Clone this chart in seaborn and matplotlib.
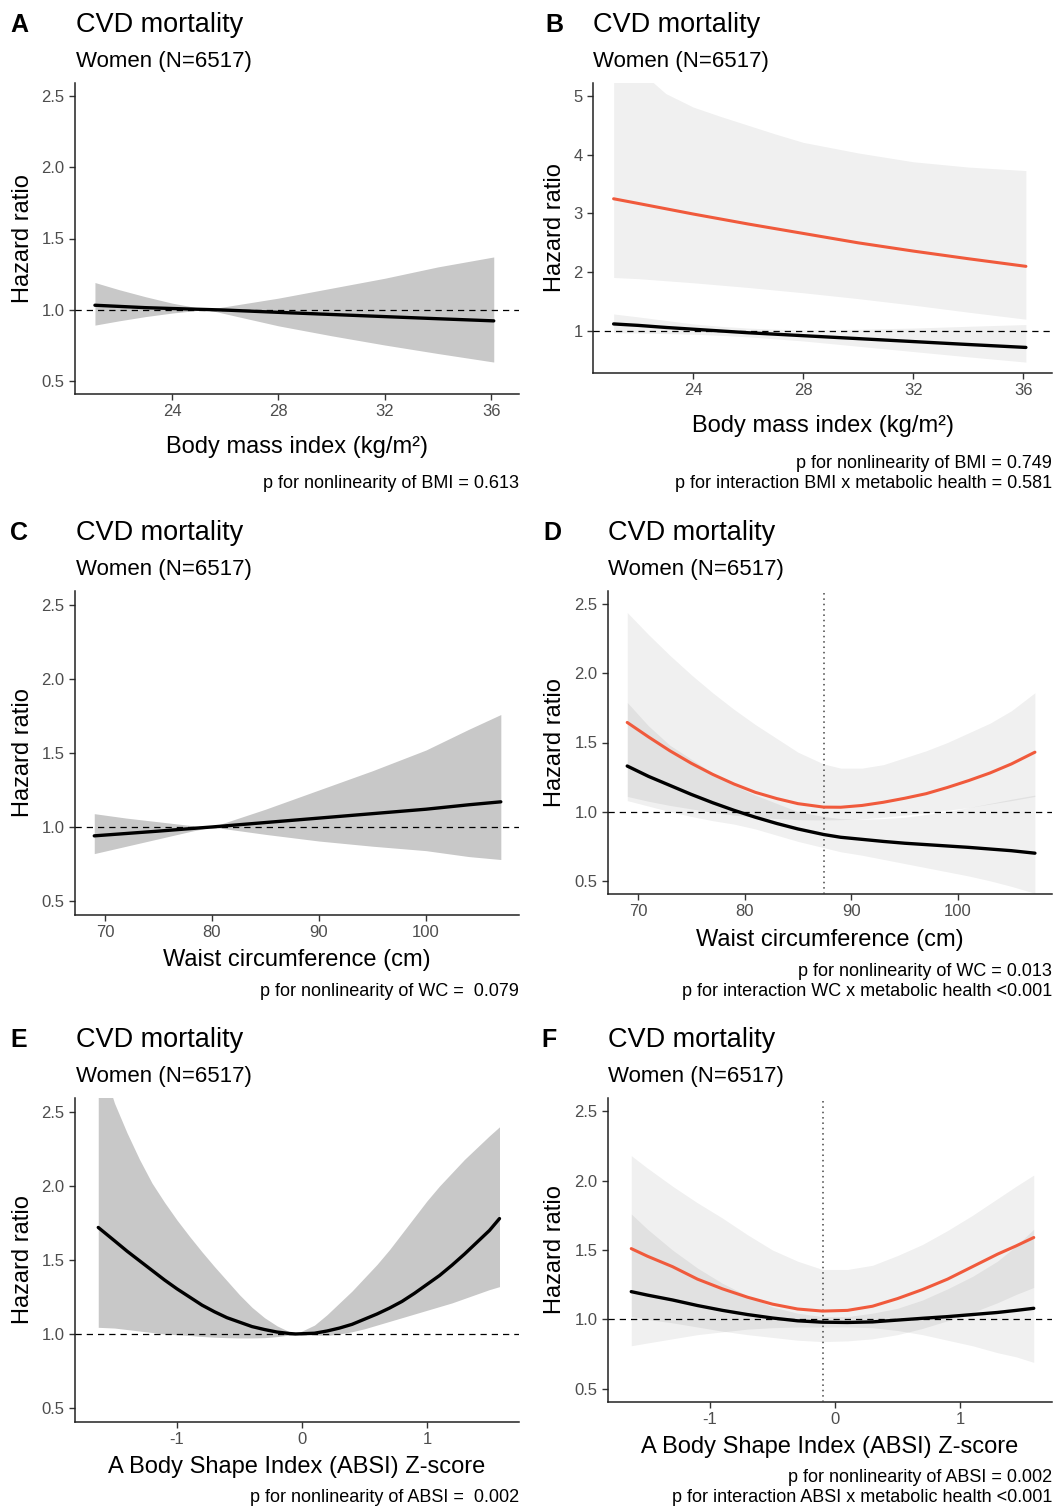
import numpy as np
import matplotlib
matplotlib.use("Agg")
import matplotlib.pyplot as plt
import seaborn as sns

# ---- Panel A: BMI, all women ----
a_x = [21.1, 22, 23, 24, 25.3, 26, 28, 30, 32, 34, 36.1]
a_hr = [1.03, 1.022, 1.013, 1.007, 1.0, 0.996, 0.98, 0.965, 0.95, 0.935, 0.92]
a_lo = [0.89, 0.92, 0.95, 0.975, 1.0, 0.97, 0.885, 0.815, 0.75, 0.69, 0.63]
a_hi = [1.19, 1.14, 1.09, 1.045, 1.0, 1.02, 1.08, 1.15, 1.22, 1.30, 1.37]

# ---- Panel B: BMI by metabolic health ----
b_x = [21.1, 22, 23, 24, 25, 26, 27, 28, 30, 32, 34, 36.1]
b_unh_hr = [3.25, 3.17, 3.08, 2.99, 2.905, 2.82, 2.74, 2.66, 2.50, 2.36, 2.23, 2.10]
b_unh_lo = [1.91, 1.89, 1.855, 1.82, 1.78, 1.74, 1.695, 1.65, 1.55, 1.44, 1.32, 1.20]
b_unh_hi = [5.95, 5.45, 5.04, 4.81, 4.65, 4.50, 4.35, 4.21, 4.03, 3.88, 3.79, 3.73]
b_hea_hr = [1.12, 1.095, 1.06, 1.03, 1.0, 0.97, 0.945, 0.92, 0.87, 0.82, 0.77, 0.72]
b_hea_lo = [0.97, 0.965, 0.955, 0.945, 0.925, 0.90, 0.865, 0.83, 0.74, 0.65, 0.56, 0.47]
b_hea_hi = [1.29, 1.24, 1.18, 1.12, 1.08, 1.05, 1.03, 1.02, 1.03, 1.05, 1.08, 1.11]

# ---- Panel C: waist circumference, all women ----
c_x = [69, 72, 75, 78, 80, 85, 90, 95, 100, 104, 107]
c_hr = [0.94, 0.956, 0.972, 0.989, 1.0, 1.03, 1.06, 1.09, 1.12, 1.15, 1.17]
c_lo = [0.82, 0.87, 0.92, 0.97, 1.0, 0.95, 0.905, 0.87, 0.84, 0.80, 0.78]
c_hi = [1.09, 1.06, 1.035, 1.01, 1.0, 1.12, 1.25, 1.38, 1.52, 1.66, 1.76]

# ---- Panel D: waist circumference by metabolic health ----
d_x = [69, 71, 73, 75, 77, 79, 81, 83, 85, 87.4, 89, 91, 93, 95, 97, 99, 101, 103, 105, 107.2]
d_unh_hr = [1.645, 1.54, 1.44, 1.35, 1.27, 1.20, 1.14, 1.095, 1.058, 1.033, 1.032, 1.045,
            1.068, 1.097, 1.13, 1.175, 1.225, 1.28, 1.345, 1.43]
d_unh_lo = [1.11, 1.075, 1.045, 1.02, 0.995, 0.975, 0.96, 0.95, 0.942, 0.94, 0.942, 0.948,
            0.96, 0.975, 0.99, 1.01, 1.03, 1.055, 1.08, 1.11]
d_unh_hi = [2.44, 2.28, 2.13, 1.99, 1.86, 1.74, 1.63, 1.53, 1.43, 1.345, 1.315, 1.315,
            1.34, 1.39, 1.44, 1.50, 1.57, 1.64, 1.73, 1.86]
d_hea_hr = [1.33, 1.255, 1.19, 1.125, 1.065, 1.01, 0.96, 0.915, 0.875, 0.835, 0.815, 0.80,
            0.785, 0.772, 0.762, 0.752, 0.742, 0.73, 0.718, 0.70]
d_hea_lo = [1.08, 1.04, 1.0, 0.965, 0.935, 0.91, 0.875, 0.83, 0.785, 0.74, 0.71, 0.685,
            0.655, 0.625, 0.595, 0.565, 0.535, 0.50, 0.46, 0.41]
d_hea_hi = [1.79, 1.62, 1.48, 1.38, 1.28, 1.19, 1.12, 1.06, 1.0, 0.965, 0.95, 0.945,
            0.95, 0.96, 0.98, 1.0, 1.03, 1.06, 1.09, 1.12]
d_ref = 87.4

# ---- Panel E: ABSI z-score, all women ----
e_x = [-1.63, -1.5, -1.4, -1.3, -1.2, -1.1, -1.0, -0.9, -0.8, -0.7, -0.6, -0.5, -0.4, -0.3,
       -0.2, -0.1, -0.05, 0.1, 0.2, 0.3, 0.4, 0.5, 0.6, 0.7, 0.8, 0.9, 1.0, 1.1, 1.2, 1.3,
       1.4, 1.5, 1.58]
e_hr = [1.72, 1.63, 1.56, 1.495, 1.43, 1.365, 1.305, 1.25, 1.195, 1.15, 1.11, 1.08, 1.05, 1.03,
        1.013, 1.003, 1.0, 1.005, 1.02, 1.04, 1.065, 1.10, 1.135, 1.175, 1.22, 1.275, 1.335,
        1.395, 1.465, 1.54, 1.62, 1.70, 1.78]
e_lo = [1.045, 1.04, 1.03, 1.02, 1.01, 1.0, 0.995, 0.99, 0.983, 0.978, 0.975, 0.973, 0.973,
        0.975, 0.982, 0.993, 1.0, 0.993, 0.99, 1.0, 1.015, 1.035, 1.06, 1.085, 1.11, 1.135,
        1.16, 1.185, 1.21, 1.24, 1.27, 1.30, 1.32]
e_hi = [2.90, 2.56, 2.36, 2.18, 2.02, 1.89, 1.77, 1.66, 1.555, 1.455, 1.36, 1.265, 1.18,
        1.11, 1.055, 1.015, 1.0, 1.06, 1.13, 1.21, 1.29, 1.38, 1.47, 1.57, 1.68, 1.79, 1.90,
        2.00, 2.09, 2.18, 2.26, 2.34, 2.40]

# ---- Panel F: ABSI z-score by metabolic health ----
f_x = [-1.63, -1.5, -1.3, -1.1, -0.9, -0.7, -0.5, -0.3, -0.1, 0.1, 0.3, 0.5, 0.7, 0.9,
       1.1, 1.3, 1.45, 1.59]
f_unh_hr = [1.51, 1.455, 1.38, 1.29, 1.22, 1.16, 1.11, 1.075, 1.06, 1.065, 1.095, 1.15,
            1.215, 1.29, 1.38, 1.47, 1.53, 1.59]
f_unh_lo = [1.02, 1.00, 0.975, 0.945, 0.915, 0.89, 0.87, 0.85, 0.84, 0.845, 0.86, 0.89,
            0.935, 0.99, 1.05, 1.12, 1.18, 1.23]
f_unh_hi = [2.18, 2.09, 1.96, 1.84, 1.73, 1.61, 1.50, 1.42, 1.36, 1.36, 1.39, 1.46,
            1.54, 1.64, 1.75, 1.87, 1.96, 2.04]
f_hea_hr = [1.20, 1.175, 1.14, 1.10, 1.065, 1.035, 1.01, 0.99, 0.98, 0.978, 0.982, 0.995,
            1.008, 1.02, 1.035, 1.05, 1.065, 1.08]
f_hea_lo = [0.81, 0.83, 0.86, 0.89, 0.91, 0.93, 0.94, 0.945, 0.945, 0.945, 0.94, 0.92,
            0.89, 0.85, 0.81, 0.76, 0.73, 0.69]
f_hea_hi = [1.76, 1.65, 1.50, 1.37, 1.26, 1.17, 1.09, 1.045, 1.02, 1.02, 1.045, 1.08,
            1.14, 1.22, 1.31, 1.42, 1.53, 1.65]
f_ref = -0.1

W, H = 1056, 1510
RED = "#F05A3C"
FONT = ["Liberation Sans", "DejaVu Sans"]

sns.set_theme(style="ticks")
plt.rcParams["font.family"] = FONT
plt.rcParams["axes.unicode_minus"] = False
plt.rcParams["text.color"] = "black"
plt.rcParams["axes.labelcolor"] = "black"

fig = plt.figure(figsize=(W / 100, H / 100), dpi=100)


def fx(px):
    return px / W


def fy(py):
    return 1 - py / H


def make_axes(left, top, right, bottom):
    return fig.add_axes([fx(left), fy(bottom), (right - left) / W, (bottom - top) / H])


def style_axes(ax, xlim, ylim, xticks, yticks):
    ax.set_xlim(*xlim)
    ax.set_ylim(*ylim)
    ax.set_xticks(xticks)
    ax.set_yticks(yticks)
    ax.set_xlabel("")
    ax.set_ylabel("")
    ax.tick_params(axis="both", labelsize=12, labelcolor="#4D4D4D", color="#333333",
                   length=4, width=1, direction="out")
    sns.despine(ax=ax)
    for s in ["left", "bottom"]:
        ax.spines[s].set_color("#222222")
        ax.spines[s].set_linewidth(1.1)
    ax.set_facecolor("white")


def ref_line(ax):
    ax.axhline(1.0, color="black", lw=0.9, ls=(0, (5, 4)), zorder=3)


def headings(letter, left_letter, left_title, ax_top):
    fig.text(fx(left_letter), fy(ax_top - 51), letter, fontsize=18, fontweight="bold",
             va="baseline", ha="left")
    fig.text(fx(left_title), fy(ax_top - 51), "CVD mortality", fontsize=19.5,
             va="baseline", ha="left")
    fig.text(fx(left_title), fy(ax_top - 16), "Women (N=6517)", fontsize=16,
             va="baseline", ha="left")


def labels(left, right, top, bottom, ylab_x, xlabel, xlab_y, ptexts, p_y):
    fig.text(fx(ylab_x), fy((top + bottom) / 2), "Hazard ratio", fontsize=17,
             rotation=90, va="center", ha="center")
    fig.text(fx((left + right) / 2), fy(xlab_y), xlabel, fontsize=17,
             va="center", ha="center")
    for i, t in enumerate(ptexts):
        fig.text(fx(right), fy(p_y + 20 * i), t, fontsize=13, va="center", ha="right")


def single_panel(rect, x, hr, lo, hi, xlim, xticks):
    ax = make_axes(*rect)
    ax.fill_between(x, lo, hi, color="#C8C8C8", lw=0, zorder=1)
    ref_line(ax)
    sns.lineplot(x=x, y=hr, ax=ax, color="black", lw=2.4, zorder=4)
    style_axes(ax, xlim, (0.405, 2.595), xticks, [0.5, 1.0, 1.5, 2.0, 2.5])
    return ax


def double_panel(rect, x, u_hr, u_lo, u_hi, h_hr, h_lo, h_hi, xlim, ylim, xticks, yticks, ref=None):
    ax = make_axes(*rect)
    ax.fill_between(x, u_lo, u_hi, color="black", alpha=0.06, lw=0, zorder=1)
    ax.fill_between(x, h_lo, h_hi, color="black", alpha=0.06, lw=0, zorder=1)
    ref_line(ax)
    if ref is not None:
        ax.axvline(ref, color="#444444", lw=1.1, ls=(0, (1, 2.5)), zorder=3)
    sns.lineplot(x=x, y=u_hr, ax=ax, color=RED, lw=2.2, zorder=4)
    sns.lineplot(x=x, y=h_hr, ax=ax, color="black", lw=2.4, zorder=4)
    style_axes(ax, xlim, ylim, xticks, yticks)
    return ax


bmi_lab = "Body mass index (kg/m²)"
wc_lab = "Waist circumference (cm)"
absi_lab = "A Body Shape Index (ABSI) Z-score"

# Row 1
single_panel((75, 83, 519, 394), a_x, a_hr, a_lo, a_hi, (20.35, 37.05), [24, 28, 32, 36])
headings("A", 10, 76, 83)
labels(75, 519, 83, 394, 23, bmi_lab, 447, ["p for nonlinearity of BMI = 0.613"], 484)

double_panel((593, 83, 1052, 373), b_x, b_unh_hr, b_unh_lo, b_unh_hi,
             b_hea_hr, b_hea_lo, b_hea_hi, (20.35, 37.05), (0.285, 5.22),
             [24, 28, 32, 36], [1, 2, 3, 4, 5])
headings("B", 545, 593, 83)
labels(593, 1052, 83, 373, 555, bmi_lab, 426,
       ["p for nonlinearity of BMI = 0.749",
        "p for interaction BMI x metabolic health = 0.581"], 464)

# Row 2
single_panel((75, 591, 519, 915), c_x, c_hr, c_lo, c_hi, (67.2, 108.7), [70, 80, 90, 100])
headings("C", 10, 76, 591)
labels(75, 519, 591, 915, 23, wc_lab, 960, ["p for nonlinearity of WC =  0.079"], 991)

double_panel((608, 591, 1052, 894), d_x, d_unh_hr, d_unh_lo, d_unh_hi,
             d_hea_hr, d_hea_lo, d_hea_hi, (67.2, 108.8), (0.405, 2.595),
             [70, 80, 90, 100], [0.5, 1.0, 1.5, 2.0, 2.5], ref=d_ref)
headings("D", 543, 608, 591)
labels(608, 1052, 591, 894, 555, wc_lab, 940,
       ["p for nonlinearity of WC = 0.013",
        "p for interaction WC x metabolic health <0.001"], 971)

# Row 3
single_panel((75, 1098, 519, 1422), e_x, e_hr, e_lo, e_hi, (-1.816, 1.736), [-1, 0, 1])
headings("E", 10, 76, 1098)
labels(75, 519, 1098, 1422, 23, absi_lab, 1467, ["p for nonlinearity of ABSI =  0.002"], 1498)

double_panel((608, 1098, 1052, 1402), f_x, f_unh_hr, f_unh_lo, f_unh_hi,
             f_hea_hr, f_hea_lo, f_hea_hi, (-1.816, 1.736), (0.405, 2.595),
             [-1, 0, 1], [0.5, 1.0, 1.5, 2.0, 2.5], ref=f_ref)
headings("F", 541, 608, 1098)
labels(608, 1052, 1098, 1402, 555, absi_lab, 1447,
       ["p for nonlinearity of ABSI = 0.002",
        "p for interaction ABSI x metabolic health <0.001"], 1478)

fig.savefig("out.png", dpi=100, facecolor="white")
